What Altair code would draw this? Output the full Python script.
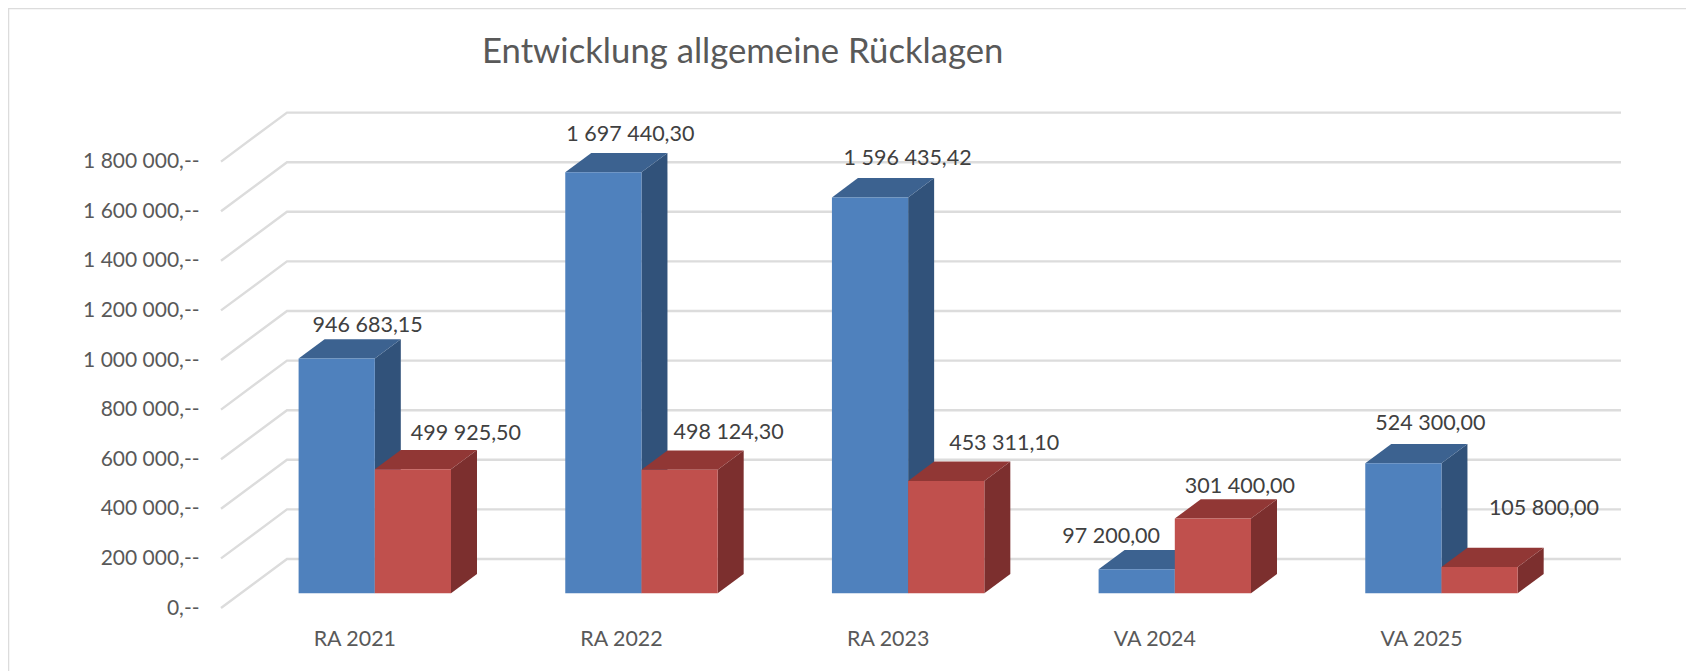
import altair as alt
import pandas as pd

categories = ["RA 2021", "RA 2022", "RA 2023", "VA 2024", "VA 2025"]
blue_values = [946683.15, 1697440.30, 1596435.42, 97200.00, 524300.00]
red_values = [499925.50, 498124.30, 453311.10, 301400.00, 105800.00]
blue_labels = ["946 683,15", "1 697 440,30", "1 596 435,42", "97 200,00", "524 300,00"]
red_labels = ["499 925,50", "498 124,30", "453 311,10", "301 400,00", "105 800,00"]
tick_values = [0, 200000, 400000, 600000, 800000, 1000000, 1200000, 1400000, 1600000, 1800000]
title_text = "Entwicklung allgemeine Rücklagen"

# hand-placed label offsets from the top-front centre of each bar (px)
blue_off_x = [31, 27, 37.6, -25.5, 27]
blue_off_y = [-33, -37, -38, -32.5, -39.5]
red_off_x = [53, 49, 58, 27, 64.4]
red_off_y = [-35, -37, -37, -32, -58]

PLOT_W, PLOT_H = 1400, 496
PAD_L, PAD_T = 213, 104
PAD_R, PAD_B = 65, 63
X_MAX, Y_MAX = 5.25, 2000000
px_x = PLOT_W / X_MAX
px_y = PLOT_H / Y_MAX

GRID_DX = 66 / px_x
GRID_DY = 49 / px_y
BAR_LEFT = 77.6 / px_x
BAR_W = 76.2 / px_x
BAR_DX = 26 / px_x
BAR_DY = 19.3 / px_y
BAR_BASE = 14.7 / px_y

GRID = "#DCDCDC"
X_SCALE = alt.Scale(domain=[0, X_MAX], nice=False, zero=False)
Y_SCALE = alt.Scale(domain=[0, Y_MAX], nice=False, zero=False)

X_AXIS = alt.Axis(
    values=[i + 0.5 for i in range(len(categories))],
    labelExpr="[" + ",".join(f"'{c}'" for c in categories) + "][round(datum.value - 0.5)]",
    domain=False, ticks=False, grid=False, labelPadding=20, labelFontSize=21.4,
    labelColor="#595959", labelFont="Lato",
)
Y_AXIS = alt.Axis(
    values=tick_values,
    labelExpr="replace(format(datum.value, ','), /,/g, ' ') + ',--'",
    domain=False, ticks=False, grid=False, labelPadding=22, labelFontSize=21,
    labelColor="#595959", labelFont="Lato",
)

def X(field="x"):
    return alt.X(field, type="quantitative", scale=X_SCALE, title=None, axis=X_AXIS)

def Y(field="y"):
    return alt.Y(field, type="quantitative", scale=Y_SCALE, title=None, axis=Y_AXIS)

# grid: front-left, back-left, back-right for every level
grid_rows = []
for level in tick_values:
    grid_rows += [
        {"level": level, "o": 0, "x": 0, "y": level},
        {"level": level, "o": 1, "x": GRID_DX, "y": level + GRID_DY},
        {"level": level, "o": 2, "x": X_MAX, "y": level + GRID_DY},
    ]
grid = alt.Chart(pd.DataFrame(grid_rows)).mark_line(color=GRID, strokeWidth=2.4).encode(
    x=X(), y=Y(), detail="level:N", order="o:Q",
)

def faces(values, offset, front, top, side):
    front_rows, top_rows, side_rows = [], [], []
    for k, v in enumerate(values):
        x0 = k + BAR_LEFT + offset * BAR_W
        x1 = x0 + BAR_W
        y0 = BAR_BASE
        y1 = BAR_BASE + v
        front_rows.append({"x": x0, "x2": x1, "y": y0, "y2": y1})
        side_rows += [
            {"k": k, "x": x1, "y": y0, "y2": y1},
            {"k": k, "x": x1 + BAR_DX, "y": y0 + BAR_DY, "y2": y1 + BAR_DY},
        ]
        top_rows += [
            {"k": k, "y": y1, "x": x0, "x2": x1},
            {"k": k, "y": y1 + BAR_DY, "x": x0 + BAR_DX, "x2": x1 + BAR_DX},
        ]
    side_l = alt.Chart(pd.DataFrame(side_rows)).mark_area(color=side).encode(
        x=X(), y=Y(), y2="y2:Q", detail="k:N")
    top_l = alt.Chart(pd.DataFrame(top_rows)).mark_area(color=top, orient="horizontal").encode(
        y=Y(), x=X(), x2="x2:Q", detail="k:N")
    front_l = alt.Chart(pd.DataFrame(front_rows)).mark_rect(color=front).encode(
        x=X(), x2="x2:Q", y=Y(), y2="y2:Q")
    return [side_l, top_l, front_l]

blue_layers = faces(blue_values, 0, "#4F81BD", "#3C6290", "#31527A")
red_layers = faces(red_values, 1, "#C0504D", "#913735", "#7C2F2E")

label_rows = []
for offset, vals, labs, ox, oy in [
    (0, blue_values, blue_labels, blue_off_x, blue_off_y),
    (1, red_values, red_labels, red_off_x, red_off_y),
]:
    for k, v in enumerate(vals):
        label_rows.append({
            "x": k + BAR_LEFT + (offset + 0.5) * BAR_W + ox[k] / px_x,
            "y": BAR_BASE + v - oy[k] / px_y,
            "t": labs[k],
        })
labels = alt.Chart(pd.DataFrame(label_rows)).mark_text(
    font="Lato", fontSize=21.5, color="#404040", align="center", baseline="middle"
).encode(x=X(), y=Y(), text="t:N")

frame_left = alt.Chart(pd.DataFrame({"a": [0]})).mark_rule(color=GRID, strokeWidth=1.5).encode(
    x=alt.value(-PAD_L + 0.5), y=alt.value(-PAD_T), y2=alt.value(PLOT_H + PAD_B))
frame_top = alt.Chart(pd.DataFrame({"a": [0]})).mark_rule(color=GRID, strokeWidth=1.5).encode(
    y=alt.value(-PAD_T + 0.5), x=alt.value(-PAD_L), x2=alt.value(PLOT_W + PAD_R))

chart = alt.layer(
    frame_left, frame_top, grid, *blue_layers, *red_layers, labels
).properties(
    width=PLOT_W,
    height=PLOT_H,
    padding={"left": PAD_L, "top": PAD_T, "right": PAD_R, "bottom": PAD_B},
    autosize=alt.AutoSizeParams(type="none"),
    background="white",
    title=alt.TitleParams(
        title_text, anchor="start", frame="group", dx=261, dy=63, offset=0,
        font="Lato", fontSize=34.7, fontWeight="normal", color="#595959",
    ),
).configure_view(stroke=None)

chart.save("out.html", embed_options={"renderer": "svg", "actions": False})
